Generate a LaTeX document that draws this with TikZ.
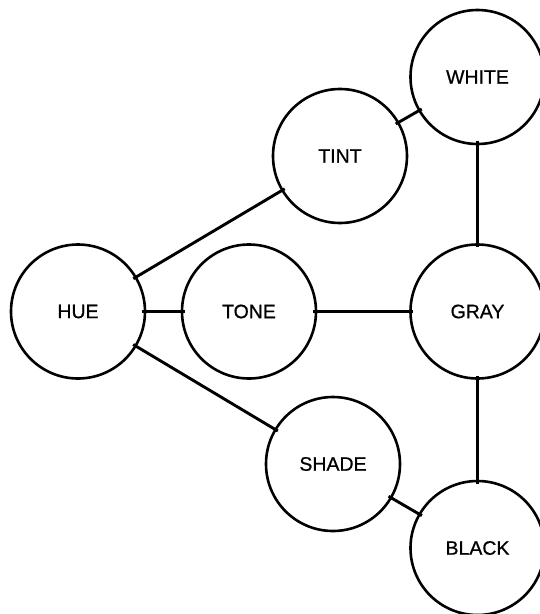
\documentclass[tikz,border=0pt]{standalone}
\usepackage{fontspec}
\setmainfont{Liberation Sans}
\newfontfamily\labfont{Liberation Sans}[RawFeature={embolden=0.7}]
\begin{document}
\begin{tikzpicture}[x=1pt,y=-1pt,
  cnode/.style={circle,draw=black,line width=2.6pt,minimum size=134pt,inner sep=0pt,font=\labfont\fontsize{19.5}{22}\selectfont},
  link/.style={line width=2.9pt,shorten <=-4pt,shorten >=-4pt}]
\useasboundingbox[fill=white] (0,0) rectangle (540,614);
\node[cnode] (hue)   at (78,311.5)  {HUE};
\node[cnode] (tone)  at (249,311.5) {TONE};
\node[cnode] (gray)  at (477.5,311.5) {GRAY};
\node[cnode] (tint)  at (340,156) {TINT};
\node[cnode] (white) at (477.5,77)  {WHITE};
\node[cnode] (shade) at (333,464) {SHADE};
\node[cnode] (black) at (477.5,548) {BLACK};
\draw[link] (hue) -- (tint);
\draw[link] (hue) -- (tone);
\draw[link] (hue) -- (shade);
\draw[link] (tint) -- (white);
\draw[link] (tone) -- (gray);
\draw[link] (white) -- (gray);
\draw[link] (gray) -- (black);
\draw[link] (shade) -- (black);
\end{tikzpicture}
\end{document}
